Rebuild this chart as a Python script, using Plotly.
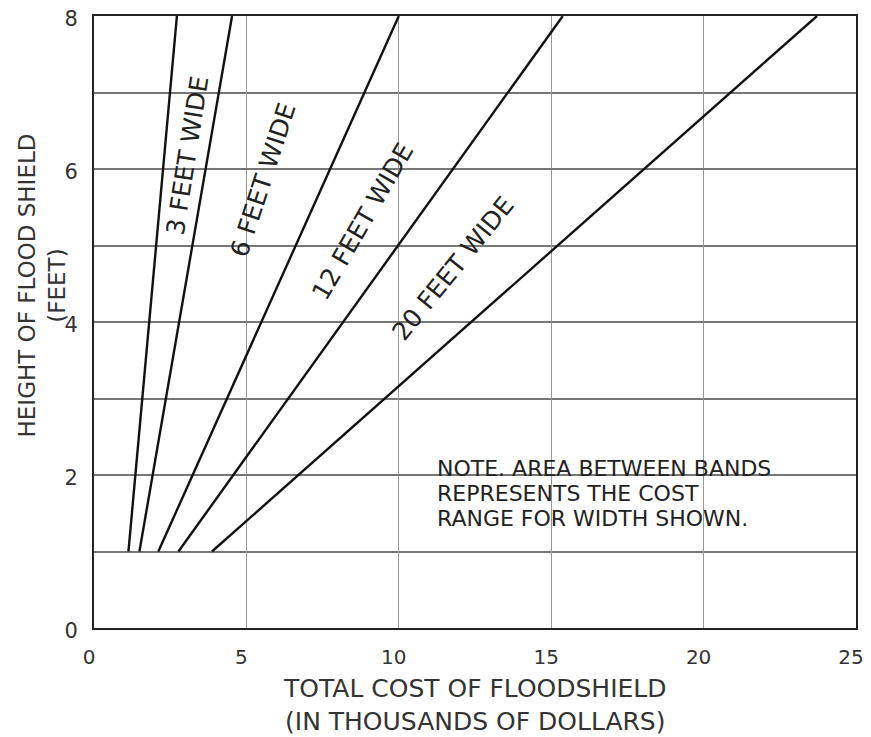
import plotly.graph_objects as go

# cost (thousands of dollars) where each band edge meets height 1 ft and 8 ft
band_heights = [1, 8]
edge_cost_low = [1.13, 1.49, 2.11, 2.77, 3.87]
edge_cost_high = [2.72, 4.53, 10.0, 15.38, 23.72]

# labels drawn between neighbouring edges
band_labels = ["3 FEET WIDE", "6 FEET WIDE", "12 FEET WIDE", "20 FEET WIDE"]

x_ticks = [0, 5, 10, 15, 20, 25]
y_ticks = [0, 2, 4, 6, 8]

note_lines = [
    "NOTE. AREA BETWEEN BANDS",
    "REPRESENTS THE COST",
    "RANGE FOR WIDTH SHOWN.",
]

FONT = "DejaVu Sans"

fig = go.Figure()

for lo, hi in zip(edge_cost_low, edge_cost_high):
    fig.add_trace(go.Scatter(
        x=[lo, hi], y=band_heights, mode="lines",
        line=dict(color="#111111", width=2.4),
        showlegend=False, hoverinfo="skip",
    ))

# label placement (x, y, angle) along each band
label_pos = [(3.06, 6.18, -81), (5.56, 5.86, -72), (8.82, 5.31, -60), (11.78, 4.7, -51)]
for text, (lx, ly, ang) in zip(band_labels, label_pos):
    fig.add_annotation(
        x=lx, y=ly, text=text, textangle=ang, showarrow=False,
        font=dict(family=FONT, size=25, color="#222222"),
    )

# note, one line per annotation (tighter line spacing than plotly's default)
for i, line in enumerate(note_lines):
    fig.add_annotation(
        x=11.2, y=2.08 - 0.327 * i, xanchor="left", yanchor="middle",
        text=line, showarrow=False,
        font=dict(family=FONT, size=22, color="#222222"),
    )

# axis titles
fig.add_annotation(
    xref="paper", yref="paper", x=0.5, y=-0.126, yanchor="middle",
    text="TOTAL COST OF FLOODSHIELD<br>(IN THOUSANDS OF DOLLARS)",
    showarrow=False, font=dict(family=FONT, size=25, color="#333333"),
)
fig.add_annotation(
    xref="paper", yref="paper", x=-0.068, y=0.56, xanchor="center", yanchor="middle",
    text="HEIGHT OF FLOOD SHIELD<br>(FEET)", textangle=-90,
    showarrow=False, font=dict(family=FONT, size=23, color="#333333"),
)

# page body adds ~8px offset, so the figure is shrunk/shifted to land the plot box in place
fig.update_layout(
    width=863, height=729,
    margin=dict(l=86, r=15, t=8, b=109),
    paper_bgcolor="white", plot_bgcolor="white",
    font=dict(family=FONT, size=21, color="#333333"),
)
fig.update_xaxes(
    range=[0, 25], tickvals=x_ticks, showgrid=True, gridcolor="#999999", gridwidth=1,
    showline=True, linecolor="#222222", linewidth=2, mirror=True,
    zeroline=False, ticks="", ticklabelstandoff=10, automargin=False,
    ticklabeloverflow="allow", tickfont=dict(size=20), ticklabelshift=-5,
)
fig.update_yaxes(
    range=[0, 8], tickvals=y_ticks, showgrid=True, gridcolor="#777777", gridwidth=1.5,
    minor=dict(dtick=1, showgrid=True, gridcolor="#777777", gridwidth=1.5),
    showline=True, linecolor="#222222", linewidth=2, mirror=True,
    zeroline=False, ticks="", ticklabelstandoff=10, automargin=False,
    ticklabeloverflow="allow", ticklabelshift=3,
)

fig.write_html("out.html")
